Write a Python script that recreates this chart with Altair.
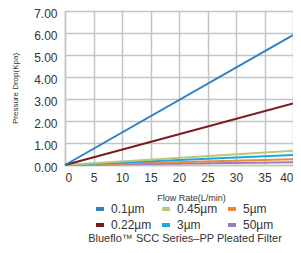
import altair as alt
import pandas as pd

# legend order (filled column by column, 3 columns x 2 rows)
series = ["0.1µm", "0.22µm", "0.45µm", "3µm", "5µm", "50µm"]
colors = ["#2f7fc1", "#7a1b20", "#b5c87e", "#1fa7df", "#ee8a34", "#9b7db7"]

flow = [0, 40]
drop_01 = [0, 5.9]
drop_022 = [0, 2.8]
drop_045 = [0, 0.65]
drop_3 = [0, 0.45]
drop_5 = [0, 0.26]
drop_50 = [0, 0.12]

x_ticks = [0, 5, 10, 15, 20, 25, 30, 35, 40]
y_ticks = [0, 1, 2, 3, 4, 5, 6, 7]

rows = []
for name, vals in [("50µm", drop_50), ("5µm", drop_5), ("3µm", drop_3),
                   ("0.45µm", drop_045), ("0.22µm", drop_022), ("0.1µm", drop_01)]:
    for f, v in zip(flow, vals):
        rows.append({"series": name, "flow": f, "drop": v})
df = pd.DataFrame(rows)

FONT = "Liberation Sans"
GRID = "#c4c4c4"

chart = alt.Chart(df).mark_line(strokeWidth=2).encode(
    x=alt.X("flow:Q",
            scale=alt.Scale(domain=[0, 40], nice=False),
            axis=alt.Axis(values=x_ticks, title="Flow Rate(L/min)", format="d",
                          tickSize=0, labelPadding=7, labelFontSize=12,
                          labelFlush=True,
                          labelColor="#333333", labelFont=FONT,
                          titleFont=FONT, titleFontSize=9, titleFontWeight="normal",
                          titleColor="#333333", titleX=126, titleY=32,
                          titleBaseline="middle",
                          grid=True, gridColor=GRID, gridWidth=1.5,
                          domainColor=GRID, domainWidth=1.5)),
    y=alt.Y("drop:Q",
            scale=alt.Scale(domain=[0, 7], nice=False),
            axis=alt.Axis(values=y_ticks, title="Pressure Drop(Kpa)", format=".2f",
                          tickSize=0, labelPadding=8, labelFontSize=12,
                          labelOffset=2,
                          labelColor="#333333", labelFont=FONT,
                          titleFont=FONT, titleFontSize=8, titleFontWeight="normal",
                          titleColor="#333333", titleX=-50, titleY=77,
                          titleBaseline="middle", titleAlign="center",
                          grid=True, gridColor=GRID, gridWidth=1.5,
                          domainColor=GRID, domainWidth=1.5)),
    color=alt.Color("series:N",
                    scale=alt.Scale(domain=series, range=colors),
                    legend=alt.Legend(orient="none", legendX=29, legendY=192,
                                      columns=3, title=None,
                                      symbolType="M-1,0H1", symbolSize=64,
                                      symbolStrokeWidth=4,
                                      labelFont=FONT, labelFontSize=12,
                                      labelColor="#333333", labelOffset=5,
                                      columnPadding=2, rowPadding=0)),
).properties(
    width=228,
    height=154,
    autosize=alt.AutoSizeParams(type="none"),
    padding={"left": 57, "top": 3, "right": 0, "bottom": 80},
    title=alt.TitleParams("Blueflo™ SCC Series–PP Pleated Filter", orient="bottom",
                          anchor="middle", font=FONT, fontSize=11, dx=6,
                          fontWeight="normal", color="#333333", offset=0),
).configure_view(stroke=None)

chart.save("out.html", embed_options={"renderer": "svg", "actions": False})
